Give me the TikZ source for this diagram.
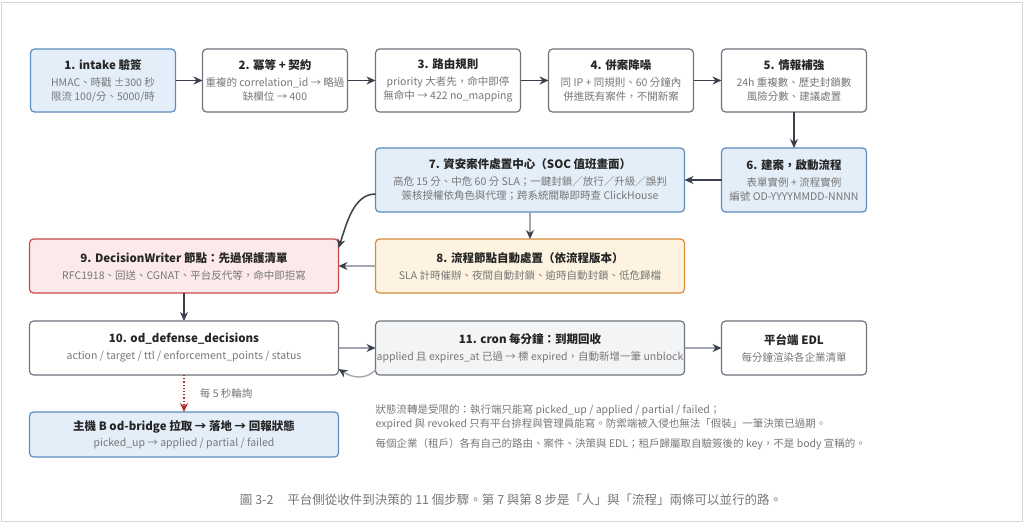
\documentclass[tikz,border=0pt]{standalone}
\usepackage{fontspec}
\setmainfont{Noto Sans CJK TC}
\usepackage{tikz}
\usetikzlibrary{arrows.meta,calc,positioning}

\definecolor{bluefill}{HTML}{E4EEF9}
\definecolor{blueline}{HTML}{5B8CC0}
\definecolor{boxgrey}{HTML}{6E737C}
\definecolor{redfill}{HTML}{FCE9EA}
\definecolor{redline}{HTML}{C9484B}
\definecolor{orangefill}{HTML}{FDF3E0}
\definecolor{orangeline}{HTML}{D98C3E}
\definecolor{cronfill}{HTML}{F3F4F6}
\definecolor{titledark}{HTML}{262626}
\definecolor{bodygrey}{HTML}{777777}
\definecolor{arrowdark}{HTML}{3B3F4B}
\definecolor{lightline}{HTML}{A3A8B0}
\definecolor{pollred}{HTML}{B22A2A}
\definecolor{framegrey}{HTML}{CFD6DE}

\newcommand{\bodysize}{\fontsize{10.5}{14}\selectfont}
\newcommand{\steptitle}[1]{\textcolor{titledark}{\fontsize{11.5}{14}\selectfont\bfseries #1}}

\begin{document}
\begin{tikzpicture}[x=1pt, y=-1pt, >={Stealth[length=9pt,width=8pt]}, node distance=28pt,
    stepbox/.style={draw=boxgrey, fill=white, rounded corners=4pt, line width=1.2pt, minimum width=145pt,
                    minimum height=63pt, align=center, text=bodygrey, font=\bodysize, inner sep=2pt, outer sep=0pt},
    bluebox/.style={draw=blueline, fill=bluefill},
    widebox/.style={stepbox, minimum width=309pt, minimum height=54pt},
    darkline/.style={draw=arrowdark, line width=1.5pt},
    lightarrow/.style={draw=lightline, line width=1.4pt, >={Stealth[length=9pt,width=8pt,color=arrowdark]}},
    note/.style={align=left, text=bodygrey, font=\bodysize, inner sep=0pt}]

    \useasboundingbox (0,0) rectangle (1024,525);
    \draw[framegrey, line width=1pt] (1,2) rectangle (1022,521);

    % top row
    \node[stepbox, bluebox]                 (intake)  at (103,80.5) {\steptitle{1. intake 驗簽}\\[3pt] HMAC、時戳 ±300 秒\\ 限流 100/分、5000/時};
    \node[stepbox, right=27pt of intake]    (idem)    {\steptitle{2. 冪等 + 契約}\\[3pt] 重複的 correlation\_id → 略過\\ 缺欄位 → 400};
    \node[stepbox, right=28pt of idem]      (route)   {\steptitle{3. 路由規則}\\[3pt] priority 大者先，命中即停\\ 無命中 → 422 no\_mapping};
    \node[stepbox, right=28pt of route]     (merge)   {\steptitle{4. 併案降噪}\\[3pt] 同 IP + 同規則、60 分鐘內\\ 併進既有案件，不開新案};
    \node[stepbox, right=28pt of merge]     (enrich)  {\steptitle{5. 情報補強}\\[3pt] 24h 重複數、歷史封鎖數\\ 風險分數、建議處置};

    % case row
    \node[stepbox, bluebox, minimum height=64pt, below=36pt of enrich] (case) {\steptitle{6. 建案，啟動流程}\\[3pt] 表單實例 + 流程實例\\ 編號 OD-YYYYMMDD-NNNN};
    \node[widebox, bluebox, minimum height=64pt, left=37pt of case] (soc)
        {\steptitle{7. 資安案件處置中心（SOC 值班畫面）}\\[3pt] 高危 15 分、中危 60 分 SLA；一鍵封鎖／放行／升級／誤判\\ 簽核授權依角色與代理；跨系統關聯即時查 ClickHouse};

    % handling row
    \node[widebox, draw=orangeline, fill=orangefill, below=27pt of soc] (flow)
        {\steptitle{8. 流程節點自動處置（依流程版本）}\\[3pt] SLA 計時催辦、夜間自動封鎖、逾時自動封鎖、低危歸檔};
    \node[widebox, draw=redline, fill=redfill, left=37pt of flow] (guard)
        {\steptitle{9. DecisionWriter 節點：先過保護清單}\\[3pt] RFC1918、回送、CGNAT、平台反代等，命中即拒寫};

    % decision row
    \node[widebox, below=28pt of guard]     (table)   {\steptitle{10. od\_defense\_decisions}\\[3pt] action / target / ttl / enforcement\_points / status};
    \node[widebox, fill=cronfill, inner xsep=0pt, right=37pt of table] (cron)
        {\steptitle{11. cron 每分鐘：到期回收}\\[3pt] applied 且 expires\_at 已過 → 標 expired，自動新增一筆 unblock};
    \node[stepbox, minimum height=54pt, right=37pt of cron] (edl) {\steptitle{平台端 EDL}\\[3pt] 每分鐘渲染各企業清單};
    \node[widebox, bluebox, minimum height=45pt, below=37pt of table] (host)
        {\steptitle{主機 B od-bridge 拉取 → 落地 → 回報狀態}\\[2pt] picked\_up → applied / partial / failed};

    % notes
    \node[note, anchor=north west] (rules) at ($(cron.south west)+(0,29)$)
        {狀態流轉是受限的：執行端只能寫 picked\_up / applied / partial / failed；\\
         expired 與 revoked 只有平台排程與管理員能寫。防禦端被入侵也無法「假裝」一筆決策已過期。\\[6pt]
         每個企業（租戶）各有自己的路由、案件、決策與 EDL；租戶歸屬取自驗簽後的 key，不是 body 宣稱的。};

    \node[text=bodygrey, font=\fontsize{12.5}{15}\selectfont] (caption) at (511,500)
        {圖 3-2\hspace{14pt}平台側從收件到決策的 11 個步驟。第 7 與第 8 步是「人」與「流程」兩條可以並行的路。};

    % connectors
    \draw[->, darkline] (intake) -- (idem);
    \draw[->, darkline] (idem) -- (route);
    \draw[->, darkline] (route) -- (merge);
    \draw[->, darkline] (merge) -- (enrich);
    \draw[->, darkline] (enrich) -- (case);
    \draw[->, darkline] (case) -- (soc);
    \draw[->, lightarrow] (soc) -- (flow);
    \draw[->, lightarrow] (flow) -- (guard);
    \draw[->, darkline] ($(soc.west)+(0,14)$) .. controls +(-22,0) and +(8,-24) .. ($(guard.east)+(0,-18)$);
    \draw[->, darkline] (guard) -- (table);
    \draw[->, lightarrow] (table) -- (cron);
    \draw[->, lightarrow] (cron) -- (edl);
    \draw[->, lightarrow] ($(cron.south west)+(0,-5)$) .. controls +(-10,10) and +(14,9) .. ($(table.south east)+(0,-6)$);
    \draw[->, draw=pollred, line width=1.2pt, dotted, >={Stealth[length=9pt,width=8pt,color=pollred]}] (table) -- node[right, xshift=12pt, text=bodygrey, font=\bodysize] {每 5 秒輪詢} (host);
\end{tikzpicture}
\end{document}
